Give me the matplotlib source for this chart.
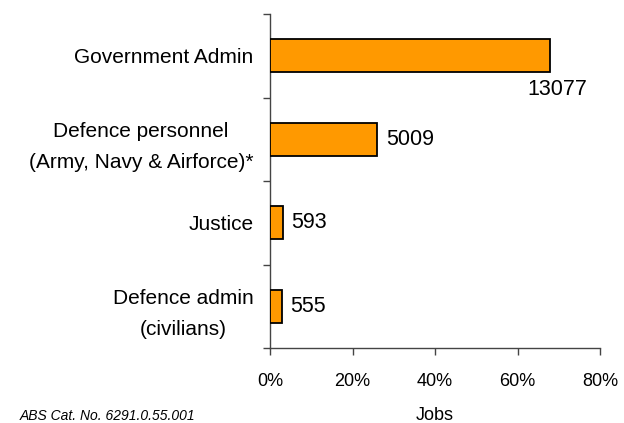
import matplotlib
matplotlib.use('Agg')
import matplotlib.pyplot as plt
import numpy as np

categories = ["Government Admin", "Defence personnel\n(Army, Navy & Airforce)*", "Justice",
              "Defence admin\n(civilians)"]
jobs = [13077, 5009, 593, 555]
xtick_vals = [0, 20, 40, 60, 80]
xtick_labels = ["0%", "20%", "40%", "60%", "80%"]
source = "ABS Cat. No. 6291.0.55.001"
xlabel = "Jobs"

plt.rcParams['font.family'] = ['Liberation Sans', 'DejaVu Sans']

pct = np.array(jobs) / sum(jobs) * 100

fig = plt.figure(figsize=(6.24, 4.23), dpi=100)
ax = fig.add_axes([270 / 624, 1 - 348 / 423, 330 / 624, 334 / 423])
y = np.arange(len(categories))
ax.barh(y, pct, height=0.4, color='#FF9900', edgecolor='black', linewidth=1.3, zorder=3)
ax.set_ylim(len(categories) - 0.5, -0.5)
ax.set_xlim(0, 80)

ax.set_yticks(y)
ax.set_yticklabels(categories, fontsize=15, multialignment='center', linespacing=1.8)
ax.tick_params(axis='y', which='major', length=0, pad=12)
ax.set_yticks(np.arange(len(categories) + 1) - 0.5, minor=True)
ax.tick_params(axis='y', which='minor', length=5, width=1, color='#444444', direction='out')

ax.set_xticks(xtick_vals)
ax.set_xticklabels(xtick_labels, fontsize=13)
ax.tick_params(axis='x', length=5, width=1, color='#444444', pad=13)

for s in ['top', 'right']:
    ax.spines[s].set_visible(False)
for s in ['left', 'bottom']:
    ax.spines[s].set_color('#444444')
    ax.spines[s].set_linewidth(1)

for i, (p, j) in enumerate(zip(pct, jobs)):
    if i == 0:
        ax.annotate(f"{j}", (p, i + 0.2), xytext=(5, -5), textcoords='offset points',
                    ha='center', va='top', fontsize=15.5)
    else:
        ax.annotate(f"{j}", (p, i), xytext=(6, 0), textcoords='offset points',
                    ha='left', va='center', fontsize=15.5)

fig.text(435 / 624, 1 - 415 / 423, xlabel, ha='center', va='center', fontsize=13)
fig.text(20 / 624, 1 - 416 / 423, source, ha='left', va='center', fontsize=10, style='italic')

fig.savefig('out.png', dpi=100)
